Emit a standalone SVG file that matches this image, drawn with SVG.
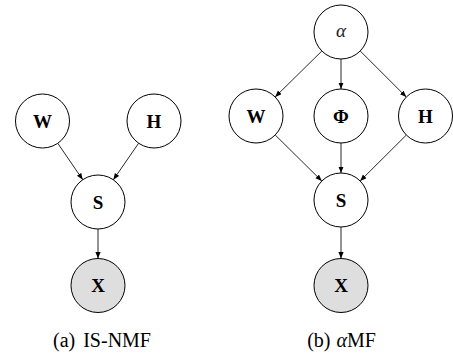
<svg xmlns="http://www.w3.org/2000/svg" width="453" height="354" viewBox="0 0 453 354">
<style>
.node{fill:#fff;stroke:#000;stroke-width:1}
.obs{fill:#dedede;stroke:#000;stroke-width:1}
.lbl{font-family:"Liberation Serif","DejaVu Serif",serif;font-weight:bold;font-size:19px;text-anchor:middle;fill:#000}
.greek{font-family:"Liberation Serif","DejaVu Serif",serif;font-style:italic;font-size:19px;text-anchor:middle;fill:#222}
.cap{font-family:"Liberation Serif","DejaVu Serif",serif;font-size:20px;text-anchor:middle;fill:#000}
.edge{stroke:#111;stroke-width:0.9;fill:none;marker-end:url(#arr)}
</style>
<defs>
<marker id="arr" markerUnits="userSpaceOnUse" markerWidth="7" markerHeight="6" refX="6.5" refY="2.6" orient="auto">
<path d="M0,0 L6.5,2.6 L0,5.2 z" fill="#000"/>
</marker>
</defs>
<rect width="453" height="354" fill="#fff"/>
<g id="connectors">
<line class="edge" x1="57.76" y1="143.27" x2="82.74" y2="179.73"/>
<line class="edge" x1="138.64" y1="143.21" x2="113.36" y2="179.79"/>
<line class="edge" x1="98" y1="229" x2="98" y2="258.5"/>
<line class="edge" x1="321.85" y1="51.03" x2="275.15" y2="96.97"/>
<line class="edge" x1="341" y1="59" x2="341" y2="89"/>
<line class="edge" x1="360.2" y1="50.98" x2="406.3" y2="97.02"/>
<line class="edge" x1="275.2" y1="134.98" x2="321.8" y2="181.02"/>
<line class="edge" x1="341" y1="143" x2="341" y2="173"/>
<line class="edge" x1="406.35" y1="135.03" x2="360.15" y2="180.97"/>
<line class="edge" x1="341" y1="227" x2="341" y2="258.5"/>
</g>
<g id="a-W"><circle class="node" cx="42.5" cy="121" r="27"/><text class="lbl" x="42.5" y="127.5">W</text></g>
<g id="a-H"><circle class="node" cx="154" cy="121" r="27"/><text class="lbl" x="154" y="127.5">H</text></g>
<g id="a-S"><circle class="node" cx="98" cy="202" r="27"/><text class="lbl" x="98" y="208.5">S</text></g>
<g id="a-X"><circle class="obs" cx="98" cy="285.5" r="27"/><text class="lbl" x="98" y="292">X</text></g>
<g id="b-alpha"><circle class="node" cx="341" cy="32" r="27"/><text class="greek" x="341" y="37">α</text></g>
<g id="b-W"><circle class="node" cx="256" cy="116" r="27"/><text class="lbl" x="256" y="122.5">W</text></g>
<g id="b-Phi"><circle class="node" cx="341" cy="116" r="27"/><text class="lbl" x="341" y="122.5">Φ</text></g>
<g id="b-H"><circle class="node" cx="425.5" cy="116" r="27"/><text class="lbl" x="425.5" y="122.5">H</text></g>
<g id="b-S"><circle class="node" cx="341" cy="200" r="27"/><text class="lbl" x="341" y="206.5">S</text></g>
<g id="b-X"><circle class="obs" cx="341" cy="285.5" r="27"/><text class="lbl" x="341" y="292">X</text></g>
<g id="captions">
<text class="cap" x="102" y="346.5">(a)<tspan dx="8">IS-NMF</tspan></text>
<text class="cap" x="341.5" y="346.5">(b)<tspan dx="6" font-style="italic">α</tspan>MF</text>
</g>
</svg>
